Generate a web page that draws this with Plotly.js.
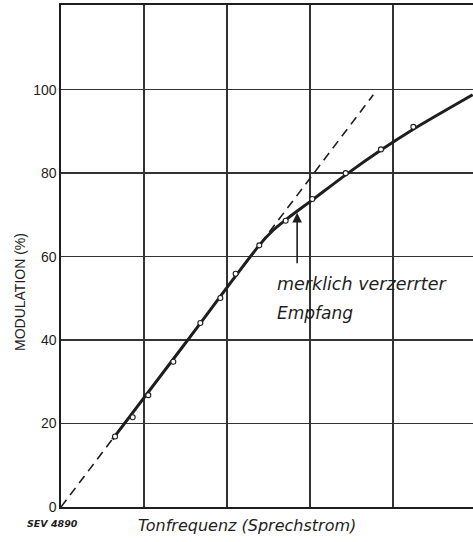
<!DOCTYPE html>
<html>
<head>
<meta charset="utf-8">
<script src="https://cdn.plot.ly/plotly-3.0.1.min.js"></script>
<style>html,body{margin:0;padding:0;background:#fff;}#chart{width:473px;height:542px;}</style>
</head>
<body>
<div id="chart"></div>
<script>
// measured points (x in grid units of Tonfrequenz, y = Modulation %)
var measX = [0.651, 0.864, 1.052, 1.353, 1.679, 1.920, 2.104, 2.389, 2.707, 3.028, 3.430, 3.855, 4.245];
var measY = [16.9, 21.5, 26.8, 34.8, 44.1, 50.1, 55.9, 62.7, 68.6, 73.8, 80.0, 85.7, 91.1];
// drawn characteristic curve
var curveX = [0.62, 1.5, 2.40, 2.55, 2.72, 2.90, 3.03, 3.43, 3.86, 4.25, 4.96];
var curveY = [16.2, 39.3, 63.0, 66.2, 69.0, 71.7, 73.6, 79.6, 85.6, 90.6, 98.8];
// dashed ideal linear line
var idealX = [0, 3.763];
var idealY = [0, 98.8];
// y tick labels
var yTicks = [0, 20, 40, 60, 80, 100];
var yLabels = ['0', '20', '40', '60', '80', '100'];
var xGrid = [0, 1, 2, 3, 4, 5];

var ink = '#1e1e1e';
var traces = [
  {x: idealX, y: idealY, mode: 'lines', line: {color: ink, width: 1.6, dash: '9px,6px'}, hoverinfo: 'skip'},
  {x: curveX, y: curveY, mode: 'lines', line: {color: ink, width: 3, shape: 'spline', smoothing: 0.8}, hoverinfo: 'skip'},
  {x: measX, y: measY, mode: 'markers', marker: {symbol: 'circle', size: 5, color: '#fff', line: {color: ink, width: 1.1}}, hoverinfo: 'skip'}
];

var layout = {
  width: 473, height: 542,
  margin: {l: 61, r: 0, t: 5, b: 35},
  paper_bgcolor: '#fff', plot_bgcolor: '#fff',
  showlegend: false,
  font: {family: 'DejaVu Sans, sans-serif', color: ink},
  xaxis: {
    range: [0, 4.964], tickvals: xGrid, showticklabels: false, ticks: '',
    showgrid: true, gridcolor: '#333', gridwidth: 1.5,
    showline: true, linecolor: ink, linewidth: 1.6, mirror: true, zeroline: false,
    title: {text: ''}
  },
  yaxis: {
    range: [0, 120.3], tickvals: yTicks, ticktext: yLabels, ticks: '',
    tickfont: {family: 'Liberation Sans, Arial, sans-serif', size: 14, color: ink},
    showgrid: true, gridcolor: '#333', gridwidth: 1.5,
    showline: true, linecolor: ink, linewidth: 1.6, zeroline: false,
    title: {text: ''}
  },
  annotations: [
    {x: 2.845, y: 70.5, xref: 'x', yref: 'y', ax: 0, ay: 52, text: '', showarrow: true,
     arrowhead: 2, arrowsize: 1.2, arrowwidth: 1.6, arrowcolor: ink},
    {x: 275, y: 284, text: 'merklich verzerrter', showarrow: false,
     xanchor: 'left', yanchor: 'middle', font: {family: 'DejaVu Sans, sans-serif', size: 17.5, color: ink, style: 'italic'}},
    {x: 275, y: 313, text: 'Empfang', showarrow: false,
     xanchor: 'left', yanchor: 'middle', font: {family: 'DejaVu Sans, sans-serif', size: 17, color: ink, style: 'italic'}},
    {x: 247, y: 525, text: 'Tonfrequenz (Sprechstrom)', showarrow: false,
     xanchor: 'center', yanchor: 'middle', font: {family: 'DejaVu Sans, sans-serif', size: 16, color: ink, style: 'italic'}},
    {x: 52, y: 523, text: '<b>SEV 4890</b>', showarrow: false,
     xanchor: 'center', yanchor: 'middle', font: {family: 'DejaVu Sans, sans-serif', size: 9.5, color: ink, style: 'italic'}},
    {x: 20, y: 292, text: 'MODULATION (%)', showarrow: false, textangle: -90,
     xanchor: 'center', yanchor: 'middle', font: {family: 'Liberation Sans, Arial, sans-serif', size: 14, color: ink}}
  ]
};
// convert pixel-placed text annotations to paper coords
var pw = 473 - 61, ph = 542 - 5 - 35;
layout.annotations.forEach(function(a, i) {
  if (i === 0) return;
  a.xref = 'paper'; a.yref = 'paper';
  a.x = (a.x - 61) / pw;
  a.y = (542 - 35 - a.y) / ph;
});
Plotly.newPlot('chart', traces, layout, {staticPlot: true, displayModeBar: false});
</script>
</body>
</html>
